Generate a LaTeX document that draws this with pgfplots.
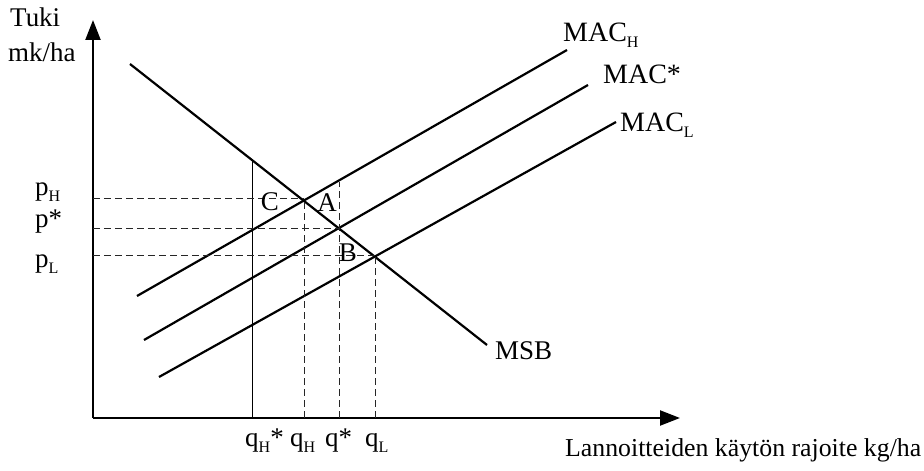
\documentclass[border=0pt]{standalone}
\usepackage{fontspec}
\setmainfont{Liberation Serif}
\usepackage{graphicx}
\usepackage{pgfplots}
\pgfplotsset{compat=1.18}
\usetikzlibrary{arrows.meta}
\newcommand\lbl{\fontsize{27}{30}\selectfont}
\newcommand\biglbl{\fontsize{28}{30}\selectfont}
\newcommand\xl{\fontsize{25.8}{30}\selectfont}
\newcommand\sub[1]{\raisebox{-6pt}{\fontsize{16}{16}\selectfont #1}}
\begin{document}
\begin{tikzpicture}
\path[use as bounding box] (-93pt,-53pt) rectangle (831pt,418pt);
\begin{axis}[at={(0pt,0pt)}, anchor=south west, scale only axis,
  width=587pt, height=398pt, xmin=0, xmax=587, ymin=0, ymax=398,
  axis lines=left, ticks=none, clip=false,
  axis line style={line width=2.2pt, -{Triangle[length=20pt,width=15pt]}},
  ]
% main curves
\addplot[black, line width=2.2pt] coordinates {(37,354) (394,73)};   % MSB
\addplot[black, line width=2.2pt] coordinates {(44,122) (474,368)};  % MAC_H
\addplot[black, line width=2.2pt] coordinates {(51,78) (495,333)};   % MAC*
\addplot[black, line width=2.2pt] coordinates {(66,41) (523,296)};   % MAC_L
% q_H* solid
\addplot[black, line width=0.9pt] coordinates {(159,0) (159,258)};
% dashed guides
\addplot[black!85, line width=0.8pt, dash pattern=on 7pt off 4pt] coordinates {(211,0) (211,220)};
\addplot[black!85, line width=0.8pt, dash pattern=on 7pt off 4pt] coordinates {(246,0) (246,236)};
\addplot[black!85, line width=0.8pt, dash pattern=on 7pt off 4pt] coordinates {(282,0) (282,163)};
\addplot[black!85, line width=0.8pt, dash pattern=on 7pt off 4pt] coordinates {(0,220) (211,220)};
\addplot[black!85, line width=0.8pt, dash pattern=on 7pt off 4pt] coordinates {(0,190) (246,190)};
\addplot[black!85, line width=0.8pt, dash pattern=on 7pt off 4pt] coordinates {(0,163) (282,163)};
% point labels
\node[font=\lbl] at (axis cs:177,216) {C};
\node[font=\lbl] at (axis cs:234,215) {A};
\node[font=\lbl] at (axis cs:255,165) {B};
% curve labels
\node[font=\biglbl, anchor=base west, inner sep=0pt] at (axis cs:470,376) {MAC\sub{H}};
\node[font=\biglbl, anchor=base west, inner sep=0pt] at (axis cs:510,334) {MAC*};
\node[font=\biglbl, anchor=base west, inner sep=0pt] at (axis cs:527,286) {MAC\sub{L}};
\node[font=\lbl, anchor=base west, inner sep=0pt] at (axis cs:402,58) {MSB};
% axis labels
\node[font=\xl, anchor=base west, inner sep=0pt] at (axis cs:472,-38) {Lannoitteiden käytön rajoite kg/ha};
\node[font=\lbl, anchor=base west, inner sep=0pt] at (axis cs:-83,391) {Tuki};
\node[font=\lbl, anchor=base west, inner sep=0pt] at (axis cs:-85,356) {mk/ha};
% price labels
\node[font=\lbl, anchor=base west, inner sep=0pt] at (axis cs:-58,222) {p\sub{H}};
\node[font=\lbl, anchor=base west, inner sep=0pt] at (axis cs:-58,190) {p*};
\node[font=\lbl, anchor=base west, inner sep=0pt] at (axis cs:-58,150) {p\sub{L}};
% quantity labels
\node[font=\lbl, anchor=base west, inner sep=0pt] at (axis cs:152,-28) {q\sub{H}*};
\node[font=\lbl, anchor=base west, inner sep=0pt] at (axis cs:197,-28) {q\sub{H}};
\node[font=\lbl, anchor=base west, inner sep=0pt] at (axis cs:232,-28) {q*};
\node[font=\lbl, anchor=base west, inner sep=0pt] at (axis cs:272,-28) {q\sub{L}};
\end{axis}
\end{tikzpicture}
\end{document}
